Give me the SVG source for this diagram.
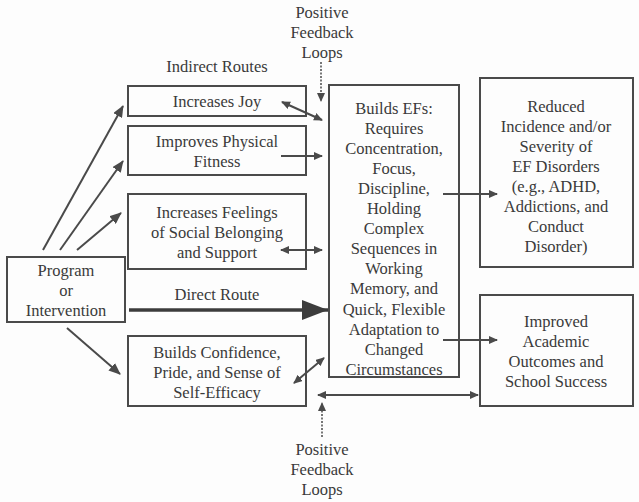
<svg xmlns="http://www.w3.org/2000/svg" width="639" height="502" viewBox="0 0 639 502" font-family="'Liberation Serif', 'DejaVu Serif', serif">
<defs>
<style>
text{font-size:16.5px;fill:#3a3a3a;text-anchor:middle}
.box{fill:none;stroke:#4a4a4a;stroke-width:2}
.ln{fill:none;stroke:#4a4a4a;stroke-width:2}
.dot{fill:none;stroke:#4a4a4a;stroke-width:1.5;stroke-dasharray:2 1.5}
</style>
<marker id="ah" markerUnits="userSpaceOnUse" markerWidth="12" markerHeight="10" refX="11" refY="5" orient="auto-start-reverse" viewBox="0 0 12 10">
<path d="M0,0 L12,5 L0,10 Z" fill="#4a4a4a"/>
</marker>
<marker id="ahs" markerUnits="userSpaceOnUse" markerWidth="9" markerHeight="8" refX="8" refY="4" orient="auto-start-reverse" viewBox="0 0 9 8">
<path d="M0,0 L9,4 L0,8 Z" fill="#4a4a4a"/>
</marker>
<marker id="big" markerUnits="userSpaceOnUse" markerWidth="26" markerHeight="20" refX="26" refY="10" orient="auto" viewBox="0 0 26 20">
<path d="M0,0 L26,10 L0,20 Z" fill="#3c3c3c"/>
</marker>
</defs>
<rect width="639" height="502" fill="#fdfdfd"/>

<g id="label-top">
<text x="322" y="18">Positive</text>
<text x="322" y="38">Feedback</text>
<text x="322" y="58">Loops</text>
</g>
<text id="label-indirect" x="217" y="72">Indirect Routes</text>
<g id="label-bottom">
<text x="322" y="455">Positive</text>
<text x="322" y="475">Feedback</text>
<text x="322" y="495">Loops</text>
</g>

<g id="program">
<rect class="box" x="7" y="257" width="118" height="65"/>
<text x="66" y="276">Program</text>
<text x="66" y="296">or</text>
<text x="66" y="316">Intervention</text>
</g>
<g id="joy">
<rect class="box" x="128" y="86" width="178" height="30"/>
<text x="217" y="107">Increases Joy</text>
</g>
<g id="fitness">
<rect class="box" x="128" y="126" width="178" height="49"/>
<text x="217" y="147">Improves Physical</text>
<text x="217" y="167">Fitness</text>
</g>
<g id="social">
<rect class="box" x="128" y="194" width="178" height="75"/>
<text x="217" y="218">Increases Feelings</text>
<text x="217" y="238">of Social Belonging</text>
<text x="217" y="258">and Support</text>
</g>
<text id="label-direct" x="217" y="300">Direct Route</text>
<g id="confidence">
<rect class="box" x="128" y="336" width="178" height="70"/>
<text x="217" y="358">Builds Confidence,</text>
<text x="217" y="378">Pride, and Sense of</text>
<text x="217" y="398">Self-Efficacy</text>
</g>
<g id="efs">
<rect class="box" x="329" y="85" width="130" height="292"/>
<text x="394" y="114">Builds EFs:</text>
<text x="394" y="134">Requires</text>
<text x="394" y="154">Concentration,</text>
<text x="394" y="174">Focus,</text>
<text x="394" y="194">Discipline,</text>
<text x="394" y="214">Holding</text>
<text x="394" y="234">Complex</text>
<text x="394" y="254">Sequences in</text>
<text x="394" y="274">Working</text>
<text x="394" y="294">Memory, and</text>
<text x="394" y="315">Quick, Flexible</text>
<text x="394" y="335">Adaptation to</text>
<text x="394" y="355">Changed</text>
<text x="394" y="375">Circumstances</text>
</g>
<g id="reduced">
<rect class="box" x="480" y="78" width="153" height="189"/>
<text x="556" y="112">Reduced</text>
<text x="556" y="132">Incidence and/or</text>
<text x="556" y="152">Severity of</text>
<text x="556" y="172">EF Disorders</text>
<text x="556" y="192">(e.g., ADHD,</text>
<text x="556" y="212">Addictions, and</text>
<text x="556" y="232">Conduct</text>
<text x="556" y="252">Disorder)</text>
</g>
<g id="academic">
<rect class="box" x="480" y="295" width="153" height="111"/>
<text x="556" y="327">Improved</text>
<text x="556" y="347">Academic</text>
<text x="556" y="367">Outcomes and</text>
<text x="556" y="387">School Success</text>
</g>

<g id="connectors">
<line class="ln" x1="43" y1="250" x2="123" y2="106" marker-end="url(#ah)"/>
<line class="ln" x1="60" y1="250" x2="123" y2="161" marker-end="url(#ah)"/>
<line class="ln" x1="77" y1="250" x2="121" y2="213" marker-end="url(#ah)"/>
<line class="ln" x1="67" y1="328" x2="120" y2="374" marker-end="url(#ah)"/>
<line x1="129" y1="310" x2="328" y2="310" stroke="#3c3c3c" stroke-width="3.5" marker-end="url(#big)"/>
<line class="ln" x1="282" y1="102" x2="322" y2="120" marker-start="url(#ahs)" marker-end="url(#ahs)"/>
<line class="ln" x1="281" y1="156" x2="322" y2="156" marker-end="url(#ahs)"/>
<line class="ln" x1="281" y1="250" x2="322" y2="250" marker-start="url(#ahs)" marker-end="url(#ahs)"/>
<line class="ln" x1="294" y1="383" x2="324" y2="358" marker-start="url(#ahs)" marker-end="url(#ahs)"/>
<line class="ln" x1="443" y1="194" x2="497" y2="194" marker-end="url(#ahs)"/>
<line class="ln" x1="443" y1="340" x2="497" y2="340" marker-end="url(#ahs)"/>
<line class="ln" x1="318" y1="395" x2="478" y2="395" marker-start="url(#ahs)" marker-end="url(#ahs)"/>
<line class="dot" x1="321" y1="62" x2="321" y2="101" marker-end="url(#ahs)"/>
<line class="dot" x1="322" y1="437" x2="322" y2="403" marker-end="url(#ahs)"/>
</g>
</svg>
